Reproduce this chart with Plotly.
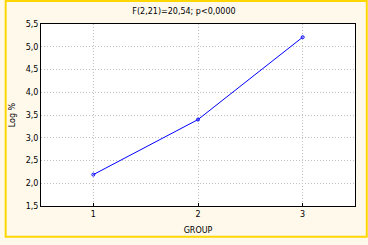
import plotly.graph_objects as go

groups = [1, 2, 3]
log_values = [2.19, 3.40, 5.21]
title_text = "F(2,21)=20,54; p<0,0000"
x_title = "GROUP"
y_title = "Log %"
y_ticks = [1.5, 2.0, 2.5, 3.0, 3.5, 4.0, 4.5, 5.0, 5.5]

W, H = 368, 245
ML, MR, MT, MB = 36, 12, 24, 32
pw, ph = W - ML - MR, H - MT - MB

fig = go.Figure()
fig.add_trace(go.Scatter(
    x=groups, y=log_values, mode="lines+markers",
    line=dict(color="#0000FF", width=1),
    marker=dict(symbol="circle-open", size=3, color="#0000FF", line=dict(width=1)),
    showlegend=False,
))

font = dict(family="DejaVu Sans", size=8, color="black")
fig.update_layout(
    width=W, height=H,
    margin=dict(l=ML, r=MR, t=MT, b=MB),
    paper_bgcolor="#FFF9EC",
    plot_bgcolor="white",
    separators=",.",
    font=font,
    title=dict(text=title_text, x=0.5, xanchor="center", y=1 - 11 / H, yanchor="middle",
               font=dict(family="DejaVu Sans", size=8, color="black")),
    xaxis=dict(range=[0.5, 3.5], tickvals=groups, ticktext=[str(g) for g in groups],
               showgrid=True, gridcolor="#C0C0C0", griddash="1px,2px", gridwidth=1,
               ticks="inside", ticklen=3, tickcolor="black",
               showline=True, linecolor="black", linewidth=1, mirror=True,
               zeroline=False,
               title=dict(text=x_title, standoff=9, font=dict(family="DejaVu Sans", size=8, color="black")),
               tickfont=font),
    yaxis=dict(range=[1.5, 5.5], tickvals=y_ticks, tickformat=".1f",
               showgrid=True, gridcolor="#C0C0C0", griddash="1px,2px", gridwidth=1,
               showline=True, linecolor="black", linewidth=1, mirror=True,
               zeroline=False,
               title=dict(text=y_title, standoff=8, font=dict(family="DejaVu Sans", size=8, color="black")),
               ticks="", ticklen=0,
               tickfont=font),
)
fig.add_shape(type="rect", xref="paper", yref="paper",
              x0=-ML / pw, x1=1 + MR / pw, y0=-MB / ph, y1=1 + MT / ph,
              line=dict(color="#FFD700", width=2), layer="below")

fig.write_html("out.html")
